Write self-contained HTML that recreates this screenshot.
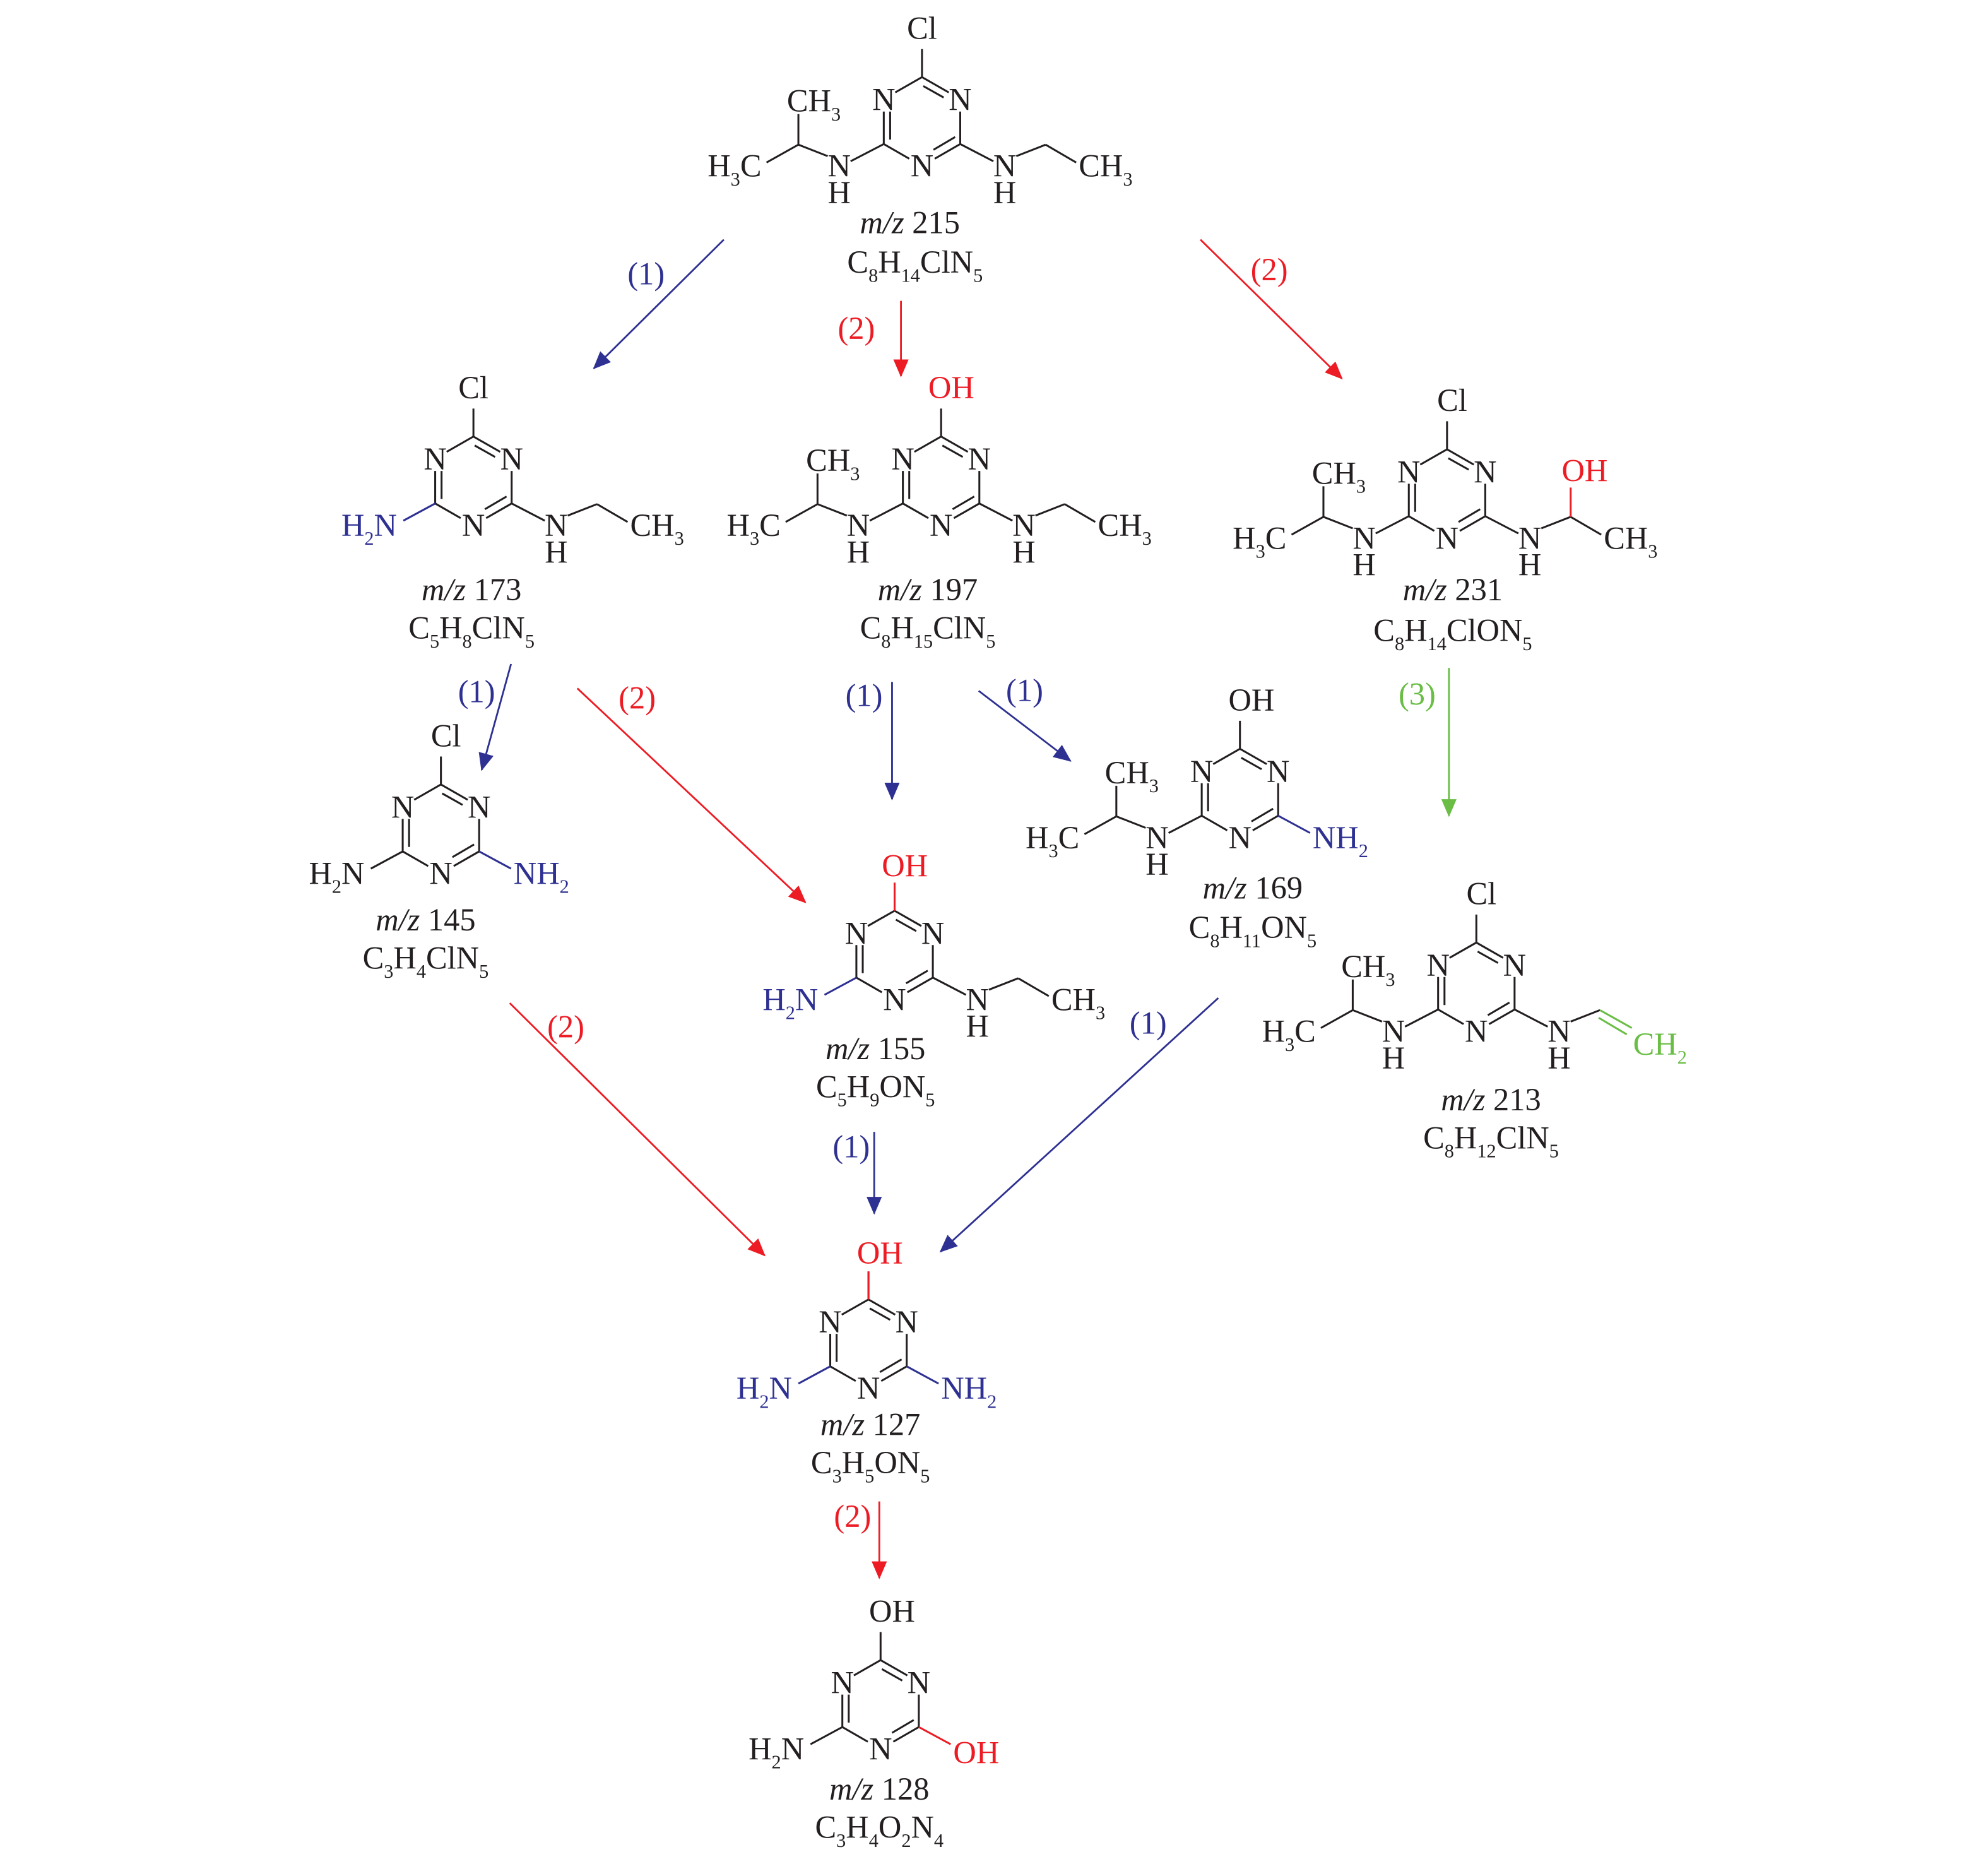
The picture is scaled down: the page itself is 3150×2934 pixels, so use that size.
<!DOCTYPE html>
<html><head><meta charset="utf-8"><style>
html,body{margin:0;padding:0;background:#fff}
svg{display:block}
text{font-family:"Liberation Serif",serif;font-size:25px;fill:#231f20;text-anchor:middle}
.s{font-size:15px}
.e{text-anchor:end}.st{text-anchor:start}
.b{fill:#2e3192}.r{fill:#ed1c24}.g{fill:#6abd45}
path{fill:none;stroke:#231f20;stroke-width:1.5}
.ab{stroke:#2e3192;stroke-width:1.4}.ar{stroke:#ed1c24;stroke-width:1.4}.ag{stroke:#6abd45;stroke-width:1.4}
</style></head><body>
<svg width="3150" height="2934" viewBox="0 0 1560 1453" xmlns="http://www.w3.org/2000/svg">
<defs>
<marker id="mb" markerUnits="userSpaceOnUse" markerWidth="14" markerHeight="12" refX="13" refY="6" orient="auto"><path d="M0,0L14,6L0,12Z" style="fill:#2e3192;stroke:none"/></marker>
<marker id="mr" markerUnits="userSpaceOnUse" markerWidth="14" markerHeight="12" refX="13" refY="6" orient="auto"><path d="M0,0L14,6L0,12Z" style="fill:#ed1c24;stroke:none"/></marker>
<marker id="mg" markerUnits="userSpaceOnUse" markerWidth="14" markerHeight="12" refX="13" refY="6" orient="auto"><path d="M0,0L14,6L0,12Z" style="fill:#6abd45;stroke:none"/></marker>
<g id="ring"><path d="M0,-35L-21,-23M0,-35L21,-23M1,-28L17,-19M30,-8V17.5M30,17.5L10,29M26,12L9,22M-10,29L-30,17.5M-30,17.5V-8M-25,14V-8M0,-35V-57"/></g>
<g id="ipr"><path d="M-30,17.5L-56,31M-74,27L-97,18M-97,18V-6M-97,18L-122,32"/></g>
<g id="et"><path d="M30,17.5L56,31M74,27L97,18M97,18L121,32"/></g>
<g id="lex"><path d="M-30,17.5L-55,31"/></g>
</defs>

<!-- A 215 -->
<g transform="translate(723.5,95.5)">
<use href="#ring"/><use href="#ipr"/><use href="#et"/>
<text x="-30" y="-9">N</text><text x="30" y="-9">N</text><text x="0" y="43">N</text>
<text x="0" y="-65">Cl</text>
<text x="-65" y="43">N</text><text x="-65" y="64">H</text>
<text x="65" y="43">N</text><text x="65" y="64">H</text>
<text class="st" x="-106" y="-8">CH<tspan class="s" dy="7">3</tspan></text>
<text class="e" x="-126" y="43">H<tspan class="s" dy="7">3</tspan><tspan dy="-7">C</tspan></text>
<text class="st" x="123" y="43">CH<tspan class="s" dy="7">3</tspan></text>
</g>
<text x="714" y="183"><tspan font-style="italic">m/z</tspan> 215</text>
<text x="718" y="214">C<tspan class="s" dy="7">8</tspan><tspan dy="-7">H</tspan><tspan class="s" dy="7">14</tspan><tspan dy="-7">ClN</tspan><tspan class="s" dy="7">5</tspan></text>

<!-- B 173 -->
<g transform="translate(371.5,377.5)">
<use href="#ring"/><use href="#et"/><path d="M-30,17.5L-55,31" style="stroke:#2e3192"/>
<text x="-30" y="-9">N</text><text x="30" y="-9">N</text><text x="0" y="43">N</text>
<text x="0" y="-65">Cl</text>
<text class="e b" x="-60" y="43">H<tspan class="s" dy="7">2</tspan><tspan dy="-7">N</tspan></text>
<text x="65" y="43">N</text><text x="65" y="64">H</text>
<text class="st" x="123" y="43">CH<tspan class="s" dy="7">3</tspan></text>
</g>
<text x="370" y="471"><tspan font-style="italic">m/z</tspan> 173</text>
<text x="370" y="501">C<tspan class="s" dy="7">5</tspan><tspan dy="-7">H</tspan><tspan class="s" dy="7">8</tspan><tspan dy="-7">ClN</tspan><tspan class="s" dy="7">5</tspan></text>

<!-- C 197 -->
<g transform="translate(738.5,377.5)">
<use href="#ring"/><use href="#ipr"/><use href="#et"/>
<text x="-30" y="-9">N</text><text x="30" y="-9">N</text><text x="0" y="43">N</text>
<text class="r" x="8" y="-65">OH</text>
<text x="-65" y="43">N</text><text x="-65" y="64">H</text>
<text x="65" y="43">N</text><text x="65" y="64">H</text>
<text class="st" x="-106" y="-8">CH<tspan class="s" dy="7">3</tspan></text>
<text class="e" x="-126" y="43">H<tspan class="s" dy="7">3</tspan><tspan dy="-7">C</tspan></text>
<text class="st" x="123" y="43">CH<tspan class="s" dy="7">3</tspan></text>
</g>
<text x="728" y="471"><tspan font-style="italic">m/z</tspan> 197</text>
<text x="728" y="501">C<tspan class="s" dy="7">8</tspan><tspan dy="-7">H</tspan><tspan class="s" dy="7">15</tspan><tspan dy="-7">ClN</tspan><tspan class="s" dy="7">5</tspan></text>

<!-- D 231 -->
<g transform="translate(1135.5,387.5)">
<use href="#ring"/><use href="#ipr"/><use href="#et"/><path d="M97,18V-5" style="stroke:#ed1c24"/>
<text x="-30" y="-9">N</text><text x="30" y="-9">N</text><text x="0" y="43">N</text>
<text x="4" y="-65">Cl</text>
<text x="-65" y="43">N</text><text x="-65" y="64">H</text>
<text x="65" y="43">N</text><text x="65" y="64">H</text>
<text class="st" x="-106" y="-8">CH<tspan class="s" dy="7">3</tspan></text>
<text class="e" x="-126" y="43">H<tspan class="s" dy="7">3</tspan><tspan dy="-7">C</tspan></text>
<text class="r" x="108" y="-10">OH</text>
<text class="st" x="123" y="43">CH<tspan class="s" dy="7">3</tspan></text>
</g>
<text x="1140" y="471"><tspan font-style="italic">m/z</tspan> 231</text>
<text x="1140" y="503">C<tspan class="s" dy="7">8</tspan><tspan dy="-7">H</tspan><tspan class="s" dy="7">14</tspan><tspan dy="-7">ClON</tspan><tspan class="s" dy="7">5</tspan></text>

<!-- E 145 -->
<g transform="translate(346,650.5)">
<use href="#ring"/><use href="#lex"/><path d="M30,17.5L55,31" style="stroke:#2e3192"/>
<text x="-30" y="-9">N</text><text x="30" y="-9">N</text><text x="0" y="43">N</text>
<text x="4" y="-65">Cl</text>
<text class="e" x="-60" y="43">H<tspan class="s" dy="7">2</tspan><tspan dy="-7">N</tspan></text>
<text class="st b" x="57" y="43">NH<tspan class="s" dy="7">2</tspan></text>
</g>
<text x="334" y="730"><tspan font-style="italic">m/z</tspan> 145</text>
<text x="334" y="760">C<tspan class="s" dy="7">3</tspan><tspan dy="-7">H</tspan><tspan class="s" dy="7">4</tspan><tspan dy="-7">ClN</tspan><tspan class="s" dy="7">5</tspan></text>

<!-- F 155 -->
<g transform="translate(702,749.5)">
<use href="#ring"/><use href="#et"/><path d="M-30,17.5L-55,31" style="stroke:#2e3192"/><path d="M0,-35V-57" style="stroke:#ed1c24"/>
<text x="-30" y="-9">N</text><text x="30" y="-9">N</text><text x="0" y="43">N</text>
<text class="r" x="8" y="-62">OH</text>
<text class="e b" x="-60" y="43">H<tspan class="s" dy="7">2</tspan><tspan dy="-7">N</tspan></text>
<text x="65" y="43">N</text><text x="65" y="64">H</text>
<text class="st" x="123" y="43">CH<tspan class="s" dy="7">3</tspan></text>
</g>
<text x="687" y="831"><tspan font-style="italic">m/z</tspan> 155</text>
<text x="687" y="861">C<tspan class="s" dy="7">5</tspan><tspan dy="-7">H</tspan><tspan class="s" dy="7">9</tspan><tspan dy="-7">ON</tspan><tspan class="s" dy="7">5</tspan></text>

<!-- G 169 -->
<g transform="translate(973,622.5)">
<use href="#ring"/><use href="#ipr"/><path d="M30,17.5L55,31" style="stroke:#2e3192"/>
<text x="-30" y="-9">N</text><text x="30" y="-9">N</text><text x="0" y="43">N</text>
<text x="9" y="-65">OH</text>
<text x="-65" y="43">N</text><text x="-65" y="64">H</text>
<text class="st" x="-106" y="-8">CH<tspan class="s" dy="7">3</tspan></text>
<text class="e" x="-126" y="43">H<tspan class="s" dy="7">3</tspan><tspan dy="-7">C</tspan></text>
<text class="st b" x="57" y="43">NH<tspan class="s" dy="7">2</tspan></text>
</g>
<text x="983" y="705"><tspan font-style="italic">m/z</tspan> 169</text>
<text x="983" y="736">C<tspan class="s" dy="7">8</tspan><tspan dy="-7">H</tspan><tspan class="s" dy="7">11</tspan><tspan dy="-7">ON</tspan><tspan class="s" dy="7">5</tspan></text>

<!-- H 213 -->
<g transform="translate(1158.5,774.5)">
<use href="#ring"/><use href="#ipr"/>
<path d="M30,17.5L56,31M74,27L97,18"/>
<path d="M97,18L122,32M96,24L118,37" style="stroke:#6abd45"/>
<text x="-30" y="-9">N</text><text x="30" y="-9">N</text><text x="0" y="43">N</text>
<text x="4" y="-65">Cl</text>
<text x="-65" y="43">N</text><text x="-65" y="64">H</text>
<text x="65" y="43">N</text><text x="65" y="64">H</text>
<text class="st" x="-106" y="-8">CH<tspan class="s" dy="7">3</tspan></text>
<text class="e" x="-126" y="43">H<tspan class="s" dy="7">3</tspan><tspan dy="-7">C</tspan></text>
<text class="st g" x="123" y="53">CH<tspan class="s" dy="7">2</tspan></text>
</g>
<text x="1170" y="871"><tspan font-style="italic">m/z</tspan> 213</text>
<text x="1170" y="901">C<tspan class="s" dy="7">8</tspan><tspan dy="-7">H</tspan><tspan class="s" dy="7">12</tspan><tspan dy="-7">ClN</tspan><tspan class="s" dy="7">5</tspan></text>

<!-- I 127 -->
<g transform="translate(681.5,1054.5)">
<use href="#ring"/><path d="M-30,17.5L-55,31M30,17.5L55,31" style="stroke:#2e3192"/><path d="M0,-35V-57" style="stroke:#ed1c24"/>
<text x="-30" y="-9">N</text><text x="30" y="-9">N</text><text x="0" y="43">N</text>
<text class="r" x="9" y="-63">OH</text>
<text class="e b" x="-60" y="43">H<tspan class="s" dy="7">2</tspan><tspan dy="-7">N</tspan></text>
<text class="st b" x="57" y="43">NH<tspan class="s" dy="7">2</tspan></text>
</g>
<text x="683" y="1126"><tspan font-style="italic">m/z</tspan> 127</text>
<text x="683" y="1156">C<tspan class="s" dy="7">3</tspan><tspan dy="-7">H</tspan><tspan class="s" dy="7">5</tspan><tspan dy="-7">ON</tspan><tspan class="s" dy="7">5</tspan></text>

<!-- J 128 -->
<g transform="translate(691,1337.5)">
<use href="#ring"/><use href="#lex"/><path d="M30,17.5L55,31" style="stroke:#ed1c24"/>
<text x="-30" y="-9">N</text><text x="30" y="-9">N</text><text x="0" y="43">N</text>
<text x="9" y="-65">OH</text>
<text class="e" x="-60" y="43">H<tspan class="s" dy="7">2</tspan><tspan dy="-7">N</tspan></text>
<text class="st r" x="57" y="46">OH</text>
</g>
<text x="690" y="1412"><tspan font-style="italic">m/z</tspan> 128</text>
<text x="690" y="1442">C<tspan class="s" dy="7">3</tspan><tspan dy="-7">H</tspan><tspan class="s" dy="7">4</tspan><tspan dy="-7">O</tspan><tspan class="s" dy="7">2</tspan><tspan dy="-7">N</tspan><tspan class="s" dy="7">4</tspan></text>

<!-- arrows -->
<path class="ab" d="M568,188L466,289" marker-end="url(#mb)"/><text class="b" x="507" y="223">(1)</text>
<path class="ar" d="M707,236L707,295" marker-end="url(#mr)"/><text class="r" x="672" y="266">(2)</text>
<path class="ar" d="M942,188L1053,297" marker-end="url(#mr)"/><text class="r" x="996" y="220">(2)</text>
<path class="ab" d="M401,521L378,604" marker-end="url(#mb)"/><text class="b" x="374" y="551">(1)</text>
<path class="ar" d="M453,540L632,708" marker-end="url(#mr)"/><text class="r" x="500" y="556">(2)</text>
<path class="ab" d="M700,535L700,627" marker-end="url(#mb)"/><text class="b" x="678" y="554">(1)</text>
<path class="ab" d="M768,542L840,597" marker-end="url(#mb)"/><text class="b" x="804" y="550">(1)</text>
<path class="ag" d="M1137,524L1137,640" marker-end="url(#mg)"/><text class="g" x="1112" y="553">(3)</text>
<path class="ar" d="M400,787L600,985" marker-end="url(#mr)"/><text class="r" x="444" y="814">(2)</text>
<path class="ab" d="M686,888L686,952" marker-end="url(#mb)"/><text class="b" x="668" y="908">(1)</text>
<path class="ab" d="M956,783L738,982" marker-end="url(#mb)"/><text class="b" x="901" y="811">(1)</text>
<path class="ar" d="M690,1178L690,1238" marker-end="url(#mr)"/><text class="r" x="669" y="1198">(2)</text>
</svg>
</body></html>
